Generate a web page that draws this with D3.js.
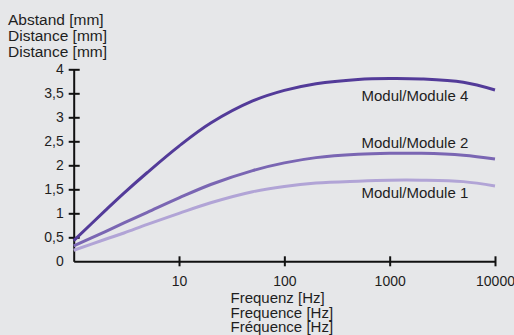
<!DOCTYPE html>
<html>
<head>
<meta charset="utf-8">
<script src="https://cdn.jsdelivr.net/npm/d3@7"></script>
<style>
  html, body { margin: 0; padding: 0; background: #e6e7e9; }
  svg { display: block; font-family: "Liberation Sans", Arial, sans-serif; }
  .axis text { font-size: 14px; fill: #1e1e1e; }
</style>
</head>
<body>
<div class="chart"></div>
<script>
// Data
const frequencies = [1, 2, 3, 5, 10, 20, 50, 100, 200, 500, 1000, 2000, 5000, 10000];
const module4 = [0.43, 1.06, 1.42, 1.85, 2.40, 2.88, 3.34, 3.56, 3.70, 3.79, 3.81, 3.80, 3.73, 3.57];
const module2 = [0.32, 0.62, 0.80, 1.02, 1.32, 1.60, 1.89, 2.05, 2.16, 2.23, 2.25, 2.25, 2.21, 2.13];
const module1 = [0.23, 0.46, 0.59, 0.77, 1.00, 1.22, 1.45, 1.56, 1.63, 1.67, 1.69, 1.69, 1.66, 1.57];
const seriesNames = ["Modul/Module 4", "Modul/Module 2", "Modul/Module 1"];
const xTickValues = [10, 100, 1000, 10000];
const yTickValues = [0, 0.5, 1, 1.5, 2, 2.5, 3, 3.5, 4];
const yTitle = ["Abstand [mm]", "Distance [mm]", "Distance [mm]"];
const xTitle = ["Frequenz [Hz]", "Frequence [Hz]", "Fréquence [Hz]"];

const width = 514, height = 335;

const svg = d3.select(".chart").append("svg")
    .attr("width", width)
    .attr("height", height);

// Scales
const xScale = d3.scaleLog()
    .domain([1, 10000])
    .range([73.7, 495]);

const yScale = d3.scaleLinear()
    .domain([0, 4])
    .range([261.3, 69.3]);

// Axes
const xAxis = d3.axisBottom(xScale)
    .tickValues(xTickValues)
    .tickFormat(d3.format("d"))
    .tickSizeInner(5)
    .tickSizeOuter(0)
    .tickPadding(10);

const yAxis = d3.axisLeft(yScale)
    .tickValues(yTickValues)
    .tickFormat(d => String(d).replace(".", ","))
    .tickSizeInner(5)
    .tickSizeOuter(0)
    .tickPadding(5);

const xAxisChart = svg.append("g")
    .attr("class", "axis x-axis")
    .attr("transform", `translate(0, ${yScale(0)})`)
    .call(xAxis);

const yAxisChart = svg.append("g")
    .attr("class", "axis y-axis")
    .attr("transform", `translate(${xScale(1)}, 0)`)
    .call(yAxis);

// ticks cross the axis line in the reference
xAxisChart.selectAll(".tick line").attr("y1", -5).attr("y2", 5);
yAxisChart.selectAll(".tick line").attr("x1", -5).attr("x2", 6);
yAxisChart.selectAll(".tick").filter(d => d === 0).select("line").remove();

svg.selectAll(".axis .domain, .axis line")
    .attr("stroke", "#111")
    .attr("stroke-width", 2);
svg.selectAll(".axis text").attr("font-family", null).attr("font-size", null);

// Lines
const series = [
    { name: seriesNames[0], values: module4, color: "#533b99", labelY: 101 },
    { name: seriesNames[1], values: module2, color: "#7a66b3", labelY: 147.5 },
    { name: seriesNames[2], values: module1, color: "#b1a4d6", labelY: 198 }
];

const line = d3.line()
    .x((d, i) => xScale(frequencies[i]))
    .y(d => yScale(d))
    .curve(d3.curveCatmullRom.alpha(0.5));

svg.append("g").selectAll("path")
    .data(series.slice().reverse())
    .join("path")
    .attr("d", d => line(d.values))
    .attr("fill", "none")
    .attr("stroke", d => d.color)
    .attr("stroke-width", 3);

// Line labels
svg.append("g").selectAll("text")
    .data(series)
    .join("text")
    .attr("x", 361.5)
    .attr("y", d => d.labelY)
    .attr("font-size", "15px")
    .attr("fill", "#1e1e1e")
    .text(d => d.name);

// Y title
svg.append("text")
    .attr("font-size", "15.5px")
    .attr("fill", "#1e1e1e")
    .selectAll("tspan")
    .data(yTitle)
    .join("tspan")
    .attr("x", 8)
    .attr("y", (d, i) => 25 + i * 16)
    .text(d => d);

// X title
svg.append("text")
    .attr("font-size", "15px")
    .attr("fill", "#1e1e1e")
    .selectAll("tspan")
    .data(xTitle)
    .join("tspan")
    .attr("x", 230.5)
    .attr("y", (d, i) => 303.3 + i * 14.2)
    .text(d => d);
</script>
</body>
</html>
